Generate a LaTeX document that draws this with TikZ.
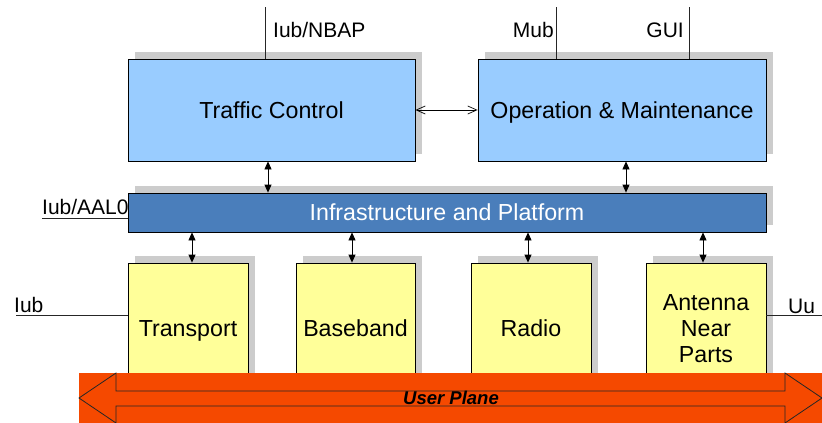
\documentclass[tikz,border=0pt]{standalone}
\usepackage{fontspec}
\setmainfont{Liberation Sans}
\usetikzlibrary{arrows.meta,shadows}

\definecolor{boxblue}{RGB}{153,204,255}
\definecolor{barblue}{RGB}{74,126,187}
\definecolor{boxyellow}{RGB}{255,255,153}
\definecolor{planeorange}{RGB}{245,73,0}
\definecolor{shade}{RGB}{204,204,204}

\tikzset{
  block/.style={draw,line width=0.8pt,inner sep=0pt,align=center,
    font=\fontsize{23.2}{26}\selectfont,
    drop shadow={shadow xshift=7pt,shadow yshift=7pt,fill=shade,opacity=1}},
  oneline/.style={text height=17pt,text depth=1pt},
  ctrl/.style={block,oneline,fill=boxblue},
  unit/.style={block,fill=boxyellow,minimum width=120pt,minimum height=132pt},
  lbl/.style={inner sep=1pt,font=\fontsize{21}{24}\selectfont},
  wire/.style={line width=0.7pt,black!85},
  biarrow/.style={line width=0.8pt,<->,>={Triangle[length=8pt,width=7pt]}},
  openarrow/.style={line width=0.7pt,<->,>={Straight Barb[length=9pt,width=8pt]}}
}

\begin{document}
\begin{tikzpicture}[x=1pt,y=-1pt]
    \useasboundingbox (0,0) rectangle (822,423);

    \node[ctrl,minimum width=287pt,minimum height=102pt] (tc) at (271.5,110) {Traffic Control};
    \node[ctrl,minimum width=288pt,minimum height=102pt] (om) at (622,110) {Operation \& Maintenance};

    \node[block,oneline,fill=barblue,text=white,minimum width=638pt,minimum height=39pt] (infra) at (447,212.5) {Infrastructure and Platform};

    \node[unit,text height=16pt,text depth=2pt] (tp) at (188,329) {Transport};
    \node[unit,text height=16pt,text depth=2pt,minimum width=119pt] (bb) at (355.5,329) {Baseband};
    \node[unit,text height=16pt,text depth=2pt] (rd) at (531,329) {Radio};
    \node[unit] (anp) at (706,329) {Antenna\\Near\\Parts};

    \coordinate (nbapend) at (265,7);
    \coordinate (mubend) at (556,7);
    \coordinate (guiend) at (689,7);
    \coordinate (aalend) at (42,218);
    \coordinate (iubend) at (16,315);
    \coordinate (uuend) at (822,315);

    \draw[wire] (nbapend) -- (nbapend |- tc.north);
    \draw[wire] (mubend) -- (mubend |- om.north);
    \draw[wire] (guiend) -- (guiend |- om.north);
    \draw[wire] (aalend) -- (aalend -| infra.west);
    \draw[wire] (iubend) -- (iubend -| tp.west);
    \draw[wire] (uuend) -- (uuend -| anp.east);

    \node[lbl,anchor=base west] (nbap) at (272,37) {Iub/NBAP};
    \node[lbl,anchor=base east] (mub) at (555,37) {Mub};
    \node[lbl,anchor=base east] (gui) at (685,37) {GUI};
    \node[lbl,anchor=base west] (aal) at (41,214) {Iub/AAL0};
    \node[lbl,anchor=base west] (iub) at (13,312) {Iub};
    \node[lbl,anchor=base west] (uu) at (787,313) {Uu};

    \draw[openarrow] (tc.east) -- (om.west);
    \draw[biarrow] ([xshift=-3.5pt]tc.south) -- ([xshift=-3.5pt]tc.south |- infra.north);
    \draw[biarrow] ([xshift=4pt]om.south) -- ([xshift=4pt]om.south |- infra.north);
    \draw[biarrow] ([xshift=4pt]tp.north |- infra.south) -- ([xshift=4pt]tp.north);
    \draw[biarrow] ([xshift=-3.5pt]bb.north |- infra.south) -- ([xshift=-3.5pt]bb.north);
    \draw[biarrow] ([xshift=-3pt]rd.north |- infra.south) -- ([xshift=-3pt]rd.north);
    \draw[biarrow] ([xshift=-3pt]anp.north |- infra.south) -- ([xshift=-3pt]anp.north);

    \fill[planeorange] (79,373) rectangle (822,423);
    \draw[line width=0.8pt,black!85,line join=miter]
      (79,398) -- (116,373) -- (116,391) -- (785,391) -- (785,373) -- (822,398)
      -- (785,423) -- (785,406) -- (116,406) -- (116,423) -- cycle;
    \node[font=\fontsize{18.5}{22}\selectfont\bfseries\itshape,inner sep=0pt] (up) at (451,398) {User Plane};
  \end{tikzpicture}
\end{document}
